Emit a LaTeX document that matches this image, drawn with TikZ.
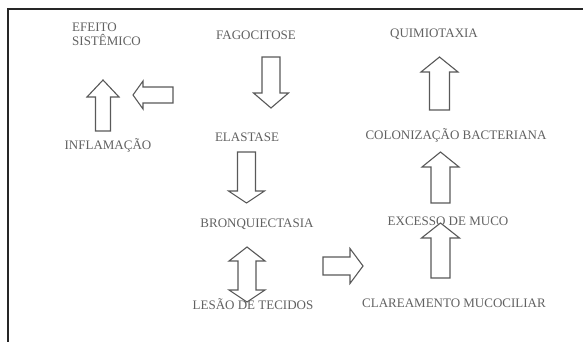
\documentclass[tikz,border=0pt]{standalone}
\usepackage{fontspec}
\setmainfont{Liberation Serif}
\begin{document}
\begin{tikzpicture}[x=1pt,y=-1pt,
  lbl/.style={anchor=base,inner sep=0pt,text=black!62,font=\fontsize{13}{14}\selectfont},
  blk/.style={draw=black!65,line width=1.1pt,fill=white,line join=miter}]
\useasboundingbox (0,0) rectangle (583,342);
\draw[line width=2.4pt,black!85] (583,9) -- (8,9) -- (8,342);

% labels
\node[lbl,anchor=base west,align=left] (efeito) at (72,45.5) {EFEITO\\SISTÊMICO};
\node[lbl] (infl) at (108,149.5) {INFLAMAÇÃO};
\node[lbl] (fago) at (256,39.5) {FAGOCITOSE};
\node[lbl] (elast) at (247,141.5) {ELASTASE};
\node[lbl] (bronq) at (257,227.5) {BRONQUIECTASIA};
\node[lbl] (lesao) at (253,309.5) {LESÃO DE TECIDOS};
\node[lbl] (quimio) at (434,37.5) {QUIMIOTAXIA};
\node[lbl] (colon) at (456,139.5) {COLONIZAÇÃO BACTERIANA};
\node[lbl] (exc) at (448,225.5) {EXCESSO DE MUCO};
\node[lbl] (clar) at (454,307.5) {CLAREAMENTO MUCOCILIAR};

% block arrows
% up: INFLAMACAO -> EFEITO SISTEMICO
\draw[blk] (103,80) -- (119,97) -- (110.5,97) -- (110.5,131) -- (95.5,131) -- (95.5,97) -- (87,97) -- cycle;
% left arrow
\draw[blk] (133,95) -- (143,81) -- (143,87) -- (173,87) -- (173,103) -- (143,103) -- (143,109) -- cycle;
% down: FAGOCITOSE -> ELASTASE
\draw[blk] (271,108) -- (288.5,93) -- (280,93) -- (280,57) -- (262,57) -- (262,93) -- (253.5,93) -- cycle;
% down: ELASTASE -> BRONQUIECTASIA
\draw[blk] (246.5,203) -- (264.5,191) -- (255.5,191) -- (255.5,152) -- (237.5,152) -- (237.5,191) -- (228.5,191) -- cycle;
% double: BRONQUIECTASIA <-> LESAO
\draw[blk] (247,247) -- (265,261) -- (256,261) -- (256,290) -- (265,290) -- (247,302) -- (229,290) -- (238,290) -- (238,261) -- (229,261) -- cycle;
% right arrow
\draw[blk] (363,266) -- (350,248.5) -- (350,257) -- (323,257) -- (323,275) -- (350,275) -- (350,283.5) -- cycle;
% up: CLAREAMENTO -> EXCESSO
\draw[blk] (440.5,223) -- (459.5,238) -- (450,238) -- (450,278) -- (431,278) -- (431,238) -- (421.5,238) -- cycle;
% up: EXCESSO -> COLONIZACAO
\draw[blk] (440.5,152) -- (459,167) -- (450,167) -- (450,203) -- (431,203) -- (431,167) -- (422,167) -- cycle;
% up: COLONIZACAO -> QUIMIOTAXIA
\draw[blk] (439.5,57) -- (458,72) -- (449.5,72) -- (449.5,110) -- (429.5,110) -- (429.5,72) -- (421,72) -- cycle;
\end{tikzpicture}
\end{document}
